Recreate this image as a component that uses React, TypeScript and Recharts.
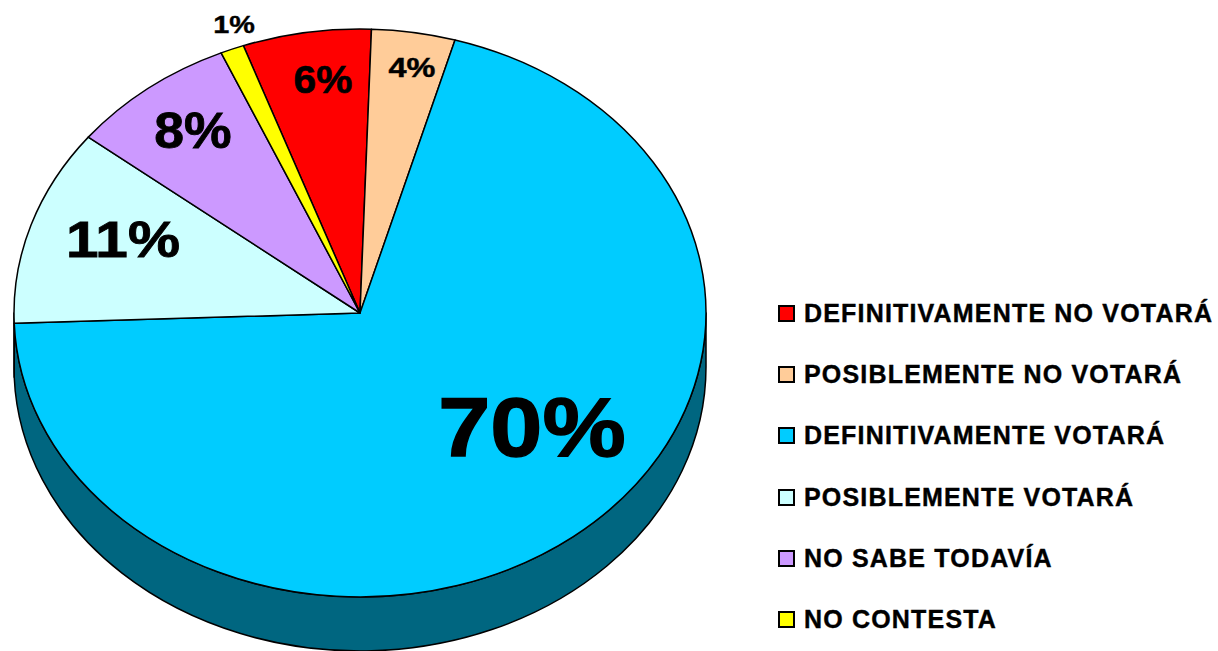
import React from 'react';
import { PieChart, Pie, Cell, Legend } from 'recharts';

const categories = ['DEFINITIVAMENTE NO VOTARÁ', 'POSIBLEMENTE NO VOTARÁ', 'DEFINITIVAMENTE VOTARÁ', 'POSIBLEMENTE VOTARÁ', 'NO SABE TODAVÍA', 'NO CONTESTA'];
const values = [6, 3.9, 70, 11.2, 7.8, 1.1];
const colors = ['#FF0000', '#FFCC99', '#00CCFF', '#CCFFFF', '#CC99FF', '#FFFF00'];
const sideColors = ['#800000', '#806650', '#006680', '#668080', '#664D80', '#808000'];
const labelSizes = [38, 27, 84, 50, 50, 24];
const labelStretch = [1.07, 1.2, 1.115, 1.17, 1.07, 1.2];
const data = categories.map((name, i) => ({ name, value: values[i] }));

const W = 1218, H = 651, CX = 360, CY = 313, RX = 346, RY = 284, DEPTH = 54;
const K = RY / RX;
const RAD = Math.PI / 180;
const START = 109.7;

const pt = (cx: number, cy: number, r: number, a: number) => [cx + r * Math.cos(a * RAD), cy - K * r * Math.sin(a * RAD)];

const TopSector = (p: any) => {
  const [x0, y0] = pt(p.cx, p.cy, p.outerRadius, p.startAngle);
  const [x1, y1] = pt(p.cx, p.cy, p.outerRadius, p.endAngle);
  const large = Math.abs(p.endAngle - p.startAngle) > 180 ? 1 : 0;
  const d = `M${p.cx},${p.cy}L${x0},${y0}A${p.outerRadius},${p.outerRadius * K} 0 ${large} 1 ${x1},${y1}Z`;
  return <path d={d} fill={p.fill} stroke="#000" strokeWidth={1.5} strokeLinejoin="round" />;
};

// The visible wall: the part of the slice's rim below the horizontal axis, extruded downward.
const WallSector = (p: any) => {
  const lo = Math.max(p.endAngle, -180);
  const hi = Math.min(p.startAngle, 0);
  if (hi <= lo) return <g />;
  const [x0, y0] = pt(p.cx, p.cy, p.outerRadius, hi);
  const [x1, y1] = pt(p.cx, p.cy, p.outerRadius, lo);
  const r = p.outerRadius;
  const large = hi - lo > 180 ? 1 : 0;
  const d = `M${x0},${y0}A${r},${r * K} 0 ${large} 1 ${x1},${y1}L${x1},${y1 + DEPTH}A${r},${r * K} 0 ${large} 0 ${x0},${y0 + DEPTH}Z`;
  return <path d={d} fill={p.fill} stroke="#000" strokeWidth={1.5} strokeLinejoin="round" />;
};

const labelPos = [[323, 79], [412, 67], [532, 427], [123, 240], [193, 131], [234, 25]];

const SliceLabel = (p: any) => {
  const i = p.index;
  return (
    <text x={labelPos[i][0]} y={labelPos[i][1]} textAnchor="middle" dominantBaseline="central"
      fontFamily="'Liberation Sans', Arial, sans-serif" fontWeight={700} fontSize={labelSizes[i]} fill="#000"
      stroke="#000" strokeWidth={labelSizes[i] / 60}
      style={{ transform: `scaleX(${labelStretch[i]})`, transformBox: 'fill-box', transformOrigin: 'center' }}>
      {`${Math.round(p.value)}%`}
    </text>
  );
};

const LegendBox = () => (
  <div style={{ display: 'flex', flexDirection: 'column' }}>
    {data.map((d, i) => (
      <div key={d.name} style={{ height: 61.2, display: 'flex', alignItems: 'center' }}>
        <span style={{ width: 17, height: 17, boxSizing: 'border-box', border: '2px solid #000', background: colors[i], marginRight: 9, flex: 'none' }} />
        <span style={{ fontFamily: "'Liberation Sans', Arial, sans-serif", fontWeight: 700, fontSize: 25, letterSpacing: 1.18, WebkitTextStroke: '0.4px #000', color: '#000', whiteSpace: 'nowrap' }}>{d.name}</span>
      </div>
    ))}
  </div>
);

export default function App() {
  return (
    <div style={{ position: 'absolute', left: 0, top: 0, width: W, height: H, overflow: 'hidden', background: '#fff' }}>
      <PieChart width={W} height={H} margin={{ top: 0, right: 0, bottom: 0, left: 0 }}>
        <Pie data={data} dataKey="value" cx={CX} cy={CY} outerRadius={RX} startAngle={START} endAngle={START - 360} paddingAngle={0}
          isAnimationActive={false} shape={WallSector} legendType="none" stroke="none">
          {data.map((d, i) => <Cell key={d.name} fill={sideColors[i]} />)}
        </Pie>
        <Pie data={data} dataKey="value" cx={CX} cy={CY} outerRadius={RX} startAngle={START} endAngle={START - 360} paddingAngle={0}
          isAnimationActive={false} shape={TopSector} label={SliceLabel} labelLine={false}>
          {data.map((d, i) => <Cell key={d.name} fill={colors[i]} />)}
        </Pie>
        <Legend layout="vertical" content={<LegendBox />} wrapperStyle={{ position: 'absolute', left: 778, top: 283, width: 440, bottom: 'auto', right: 'auto' }} />
      </PieChart>
    </div>
  );
}
